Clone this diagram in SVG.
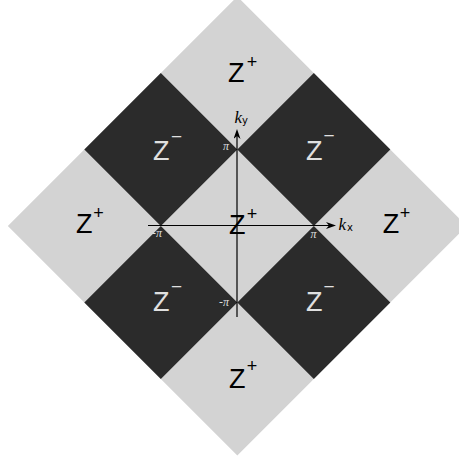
<svg xmlns="http://www.w3.org/2000/svg" width="459" height="462" viewBox="0 0 459 462">
<style>
.light{fill:#d3d3d3}
.dark{fill:#2b2b2b}
.zp{font-family:"Liberation Sans",Arial,sans-serif;font-size:27px;fill:#000}
.zm{font-family:"Liberation Sans",Arial,sans-serif;font-size:27px;fill:#e0e0e0}
.sp{font-family:"Liberation Sans",Arial,sans-serif;font-size:18px;fill:#000;text-anchor:middle}
.sm{font-family:"Liberation Sans",Arial,sans-serif;font-size:19px;fill:#e0e0e0;text-anchor:middle}
.pi{font-family:"Liberation Serif","Times New Roman",serif;font-style:italic;font-size:12px;fill:#dddddd}
.k{font-family:"Liberation Serif","Times New Roman",serif;font-style:italic;font-size:17px;fill:#000}
.sub{font-family:"DejaVu Sans",sans-serif;font-size:10px;fill:#000}
.axis{stroke:#000;stroke-width:1.2;fill:none}
</style>
<defs>
<marker id="arr" viewBox="0 0 10 7" refX="3" refY="3.5" markerWidth="10" markerHeight="7" markerUnits="userSpaceOnUse" orient="auto">
<path d="M0,0 L10,3.5 L0,7 L3,3.5 Z" fill="#000"/>
</marker>
</defs>
<g id="background">
<polygon class="light" points="237.3,-3.5 466.8,226 237.3,455.5 7.8,226"/>
</g>
<g id="sq-ul"><polygon class="dark" points="160.8,73 237.3,149.5 160.8,226 84.3,149.5"/><text class="zm" x="153" y="160">Z</text><text class="sm" x="176.5" y="143">−</text></g>
<g id="sq-ur"><polygon class="dark" points="313.8,73 390.3,149.5 313.8,226 237.3,149.5"/><text class="zm" x="306" y="160">Z</text><text class="sm" x="329" y="142">−</text></g>
<g id="sq-ll"><polygon class="dark" points="160.8,226 237.3,302.5 160.8,379 84.3,302.5"/><text class="zm" x="153" y="310.5">Z</text><text class="sm" x="176.5" y="293">−</text></g>
<g id="sq-lr"><polygon class="dark" points="313.8,226 390.3,302.5 313.8,379 237.3,302.5"/><text class="zm" x="306" y="310.5">Z</text><text class="sm" x="329" y="293">−</text></g>
<g id="sq-top"><text class="zp" x="228" y="82">Z</text><text class="sp" x="252" y="67.5">+</text></g>
<g id="sq-left"><text class="zp" x="76" y="233">Z</text><text class="sp" x="98.5" y="219">+</text></g>
<g id="sq-right"><text class="zp" x="382.7" y="233">Z</text><text class="sp" x="405" y="219">+</text></g>
<g id="sq-bottom"><text class="zp" x="229" y="388">Z</text><text class="sp" x="252" y="372">+</text></g>
<g id="connectors">
<line class="axis" x1="148" y1="225.5" x2="329" y2="225.5" stroke="#333" marker-end="url(#arr)"/>
<line class="axis" x1="237" y1="317" x2="237" y2="136" marker-end="url(#arr)"/>
</g>
<g id="sq-center"><text class="zp" x="229" y="234">Z</text><text class="sp" x="252" y="219.5">+</text></g>
<g id="labels">
<text class="k" x="234.5" y="123">k</text><text class="sub" x="242" y="124">y</text>
<text class="k" x="338.5" y="230">k</text><text class="sub" x="347" y="231">x</text>
<text class="pi" x="229" y="150" text-anchor="end">π</text>
<text class="pi" x="157" y="237" text-anchor="middle">-π</text>
<text class="pi" x="313.5" y="237.5" text-anchor="middle">π</text>
<text class="pi" x="229" y="306" text-anchor="end">-π</text>
</g>
</svg>
